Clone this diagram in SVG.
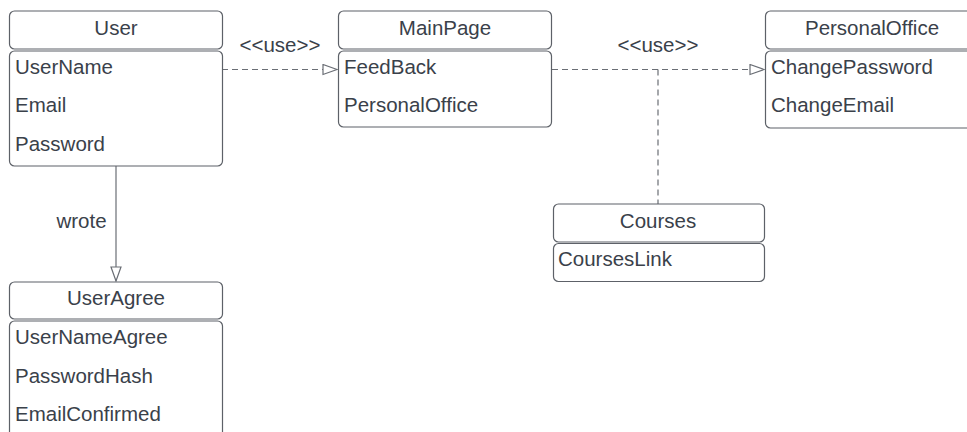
<svg xmlns="http://www.w3.org/2000/svg" width="967" height="432" viewBox="0 0 967 432">
<defs>
<style>
.box{fill:#ffffff;stroke:#5d6168;stroke-width:1.2}
.t{font-family:"Liberation Sans",Arial,sans-serif;font-size:20.5px;fill:#3a414a}
.c{text-anchor:middle}
.ln{fill:none;stroke:#6a6e75;stroke-width:1.2}
.d{stroke-dasharray:6 4}
</style>
<marker id="tri" viewBox="0 0 16 12" refX="15" refY="6" markerWidth="16" markerHeight="12" markerUnits="userSpaceOnUse" orient="auto">
<path d="M1,1 L15,6 L1,11 Z" fill="#ffffff" stroke="#6a6e75" stroke-width="1.2"/>
</marker>
</defs>
<rect width="967" height="432" fill="#ffffff"/>
<g id="connectors">
<line class="ln d" x1="222" y1="69.5" x2="337" y2="69.5" marker-end="url(#tri)"/>
<line class="ln d" x1="552" y1="69.5" x2="764" y2="69.5" marker-end="url(#tri)"/>
<line class="ln d" x1="658" y1="69.5" x2="658" y2="204"/>
<line class="ln" x1="116" y1="166" x2="116" y2="281" marker-end="url(#tri)"/>
<text class="t c" x="280" y="52">&lt;&lt;use&gt;&gt;</text>
<text class="t c" x="658" y="52">&lt;&lt;use&gt;&gt;</text>
<text class="t c" x="81.5" y="228">wrote</text>
</g>
<g id="User">
<rect class="box" x="9.5" y="11" width="213" height="38" rx="5"/>
<rect class="box" x="9.5" y="51" width="213" height="115" rx="5"/>
<text class="t c" x="116" y="35">User</text>
<text class="t" x="15" y="74">UserName</text>
<text class="t" x="15" y="112">Email</text>
<text class="t" x="15" y="151">Password</text>
</g>
<g id="MainPage">
<rect class="box" x="338.5" y="11" width="213" height="38" rx="5"/>
<rect class="box" x="338.5" y="51" width="213" height="76" rx="5"/>
<text class="t c" x="445" y="35">MainPage</text>
<text class="t" x="344" y="74">FeedBack</text>
<text class="t" x="344" y="112">PersonalOffice</text>
</g>
<g id="PersonalOffice">
<rect class="box" x="765.5" y="11" width="213" height="38" rx="5"/>
<rect class="box" x="765.5" y="51" width="213" height="77" rx="5"/>
<text class="t c" x="872" y="35">PersonalOffice</text>
<text class="t" x="771" y="74">ChangePassword</text>
<text class="t" x="771" y="112">ChangeEmail</text>
</g>
<g id="Courses">
<rect class="box" x="553.5" y="204" width="211" height="38" rx="5"/>
<rect class="box" x="553.5" y="243.5" width="211" height="38" rx="5"/>
<text class="t c" x="658" y="228">Courses</text>
<text class="t" x="558" y="266">CoursesLink</text>
</g>
<g id="UserAgree">
<rect class="box" x="9.5" y="282" width="213" height="37" rx="5"/>
<rect class="box" x="9.5" y="321" width="213" height="118" rx="5"/>
<text class="t c" x="116" y="305">UserAgree</text>
<text class="t" x="15" y="344">UserNameAgree</text>
<text class="t" x="15" y="383">PasswordHash</text>
<text class="t" x="15" y="421">EmailConfirmed</text>
</g>
</svg>
